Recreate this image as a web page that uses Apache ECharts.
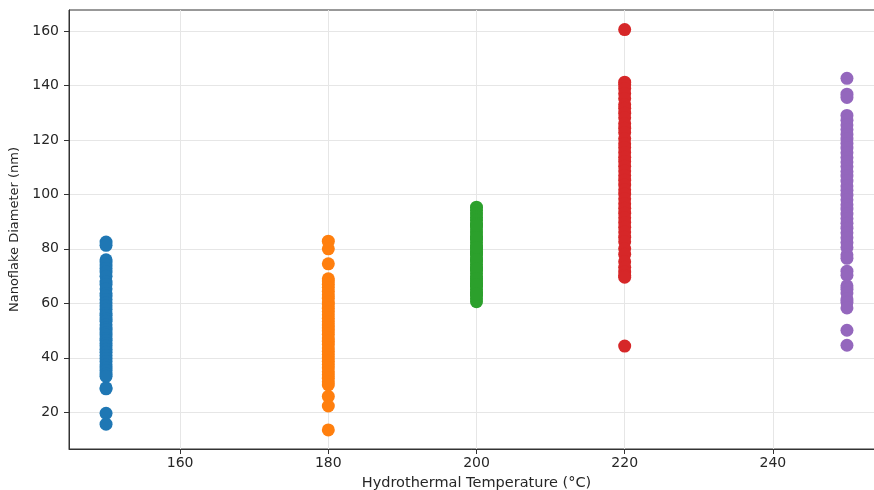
<!DOCTYPE html>
<html>
<head>
<meta charset="utf-8">
<script src="https://cdn.jsdelivr.net/npm/echarts@6/dist/echarts.min.js"></script>
<style>
html,body{margin:0;padding:0;background:#fff;}
#chart{width:874px;height:490px;}
</style>
</head>
<body>
<div id="chart"></div>
<script>
const temperatures = [150, 180, 200, 220, 250];
const seriesColors = ['#1f77b4', '#ff7f0e', '#2ca02c', '#d62728', '#9467bd'];
const xTicks = [160, 180, 200, 220, 240];
const yTicks = [20, 40, 60, 80, 100, 120, 140, 160];

const d150 = [82.5, 81.3, 76.0, 75.2, 74.1, 72.8, 71.5, 69.9, 67.8, 66.9, 65.3, 63.6, 62.7, 61.4, 60.2, 59.1, 57.8, 56.3, 55.5, 54.2, 53.4, 52.1, 51.0, 50.3, 49.2, 48.4, 47.1, 46.3, 45.2, 44.4, 43.1, 42.0, 40.8, 39.7, 38.6, 37.4, 36.2, 35.3, 34.0, 33.2, 29.0, 28.6, 19.6, 15.6];
const d180 = [82.8, 80.0, 74.5, 69.0, 68.2, 67.0, 65.8, 64.4, 63.1, 61.9, 60.5, 59.6, 58.2, 57.0, 55.8, 54.5, 53.3, 52.0, 50.9, 49.8, 48.6, 47.3, 46.1, 44.9, 43.6, 42.4, 41.2, 39.9, 38.7, 37.5, 36.2, 34.9, 33.8, 32.5, 31.2, 30.0, 25.8, 22.3, 13.5];
const d200 = [95.3, 94.1, 92.8, 91.6, 90.5, 89.2, 88.1, 87.0, 85.8, 84.6, 83.5, 82.3, 81.2, 80.1, 79.0, 77.8, 76.7, 75.5, 74.3, 73.2, 72.0, 70.9, 69.8, 68.6, 67.4, 66.3, 65.1, 64.0, 62.8, 61.7, 60.6, 78.4, 76.0, 72.6, 69.1, 84.0, 80.5, 66.9, 88.7, 63.4];
const d220 = [160.5, 141.2, 140.3, 138.9, 137.0, 135.2, 133.0, 131.6, 129.8, 128.1, 126.0, 124.3, 122.7, 120.5, 118.6, 117.2, 115.4, 113.6, 112.1, 110.3, 108.6, 106.9, 105.2, 103.4, 101.7, 100.1, 98.4, 96.6, 94.9, 93.1, 91.4, 89.7, 87.9, 86.2, 84.3, 82.6, 80.1, 78.0, 75.3, 73.2, 71.5, 70.2, 69.6, 44.3];
const d250 = [142.6, 136.8, 135.6, 129.0, 127.2, 125.5, 123.8, 122.0, 120.3, 118.7, 117.0, 115.3, 113.5, 111.9, 110.2, 108.4, 106.7, 104.9, 103.1, 101.5, 99.7, 98.0, 96.2, 94.6, 92.8, 91.1, 89.4, 87.6, 85.9, 84.1, 82.3, 80.5, 77.8, 76.5, 71.8, 70.3, 66.4, 65.2, 63.8, 61.6, 60.4, 58.3, 50.1, 44.6];
const diameters = [d150, d180, d200, d220, d250];

const font = 'DejaVu Sans';
const textColor = '#262626';

const series = temperatures.map((t, i) => ({
  type: 'scatter',
  symbolSize: 13,
  itemStyle: { color: seriesColors[i], opacity: 1 },
  data: diameters[i].map(v => [t, v]),
  silent: true
}));

const chart = echarts.init(document.getElementById('chart'), null, { renderer: 'canvas' });
chart.setOption({
  animation: false,
  backgroundColor: '#ffffff',
  grid: {
    left: 69, top: 10, right: -10, bottom: 41,
    show: true, borderColor: '#333', borderWidth: 1,
    outerBoundsMode: 'none', containLabel: false
  },
  xAxis: {
    type: 'value', min: 145, max: 255,
    name: 'Hydrothermal Temperature (°C)', nameLocation: 'middle', nameGap: 27,
    nameTextStyle: { fontFamily: font, fontSize: 14.5, color: textColor },
    axisLine: { show: true, onZero: false, lineStyle: { color: '#333', width: 1 } },
    axisTick: { show: true, length: 5, lineStyle: { color: '#333' }, customValues: xTicks },
    axisLabel: { fontFamily: font, fontSize: 14, color: textColor, margin: 7, customValues: xTicks },
    splitLine: { show: true, lineStyle: { color: '#e6e6e6', width: 1 } }
  },
  yAxis: {
    type: 'value', min: 6.5, max: 167.7,
    name: 'Nanoflake Diameter (nm)', nameLocation: 'middle', nameGap: 47,
    nameTextStyle: { fontFamily: font, fontSize: 13, color: textColor },
    axisLine: { show: true, onZero: false, lineStyle: { color: '#333', width: 1 } },
    axisTick: { show: true, length: 5, lineStyle: { color: '#333' }, customValues: yTicks },
    axisLabel: { fontFamily: font, fontSize: 14, color: textColor, margin: 10, customValues: yTicks },
    splitLine: { show: true, lineStyle: { color: '#e6e6e6', width: 1 } }
  },
  series: series
});
</script>
</body>
</html>
